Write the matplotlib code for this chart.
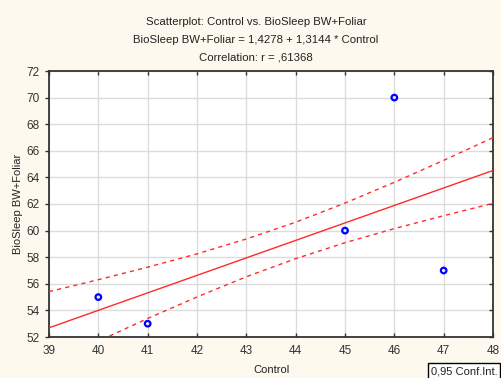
import numpy as np
import matplotlib.pyplot as plt
import matplotlib.lines as mlines

plt.rcParams['font.family'] = ['Liberation Sans', 'DejaVu Sans']

# observed data
control = [40, 41, 45, 46, 47]
biosleep = [55, 53, 60, 70, 57]

# 0.95 confidence band at integer x
band_x = [39, 40, 41, 42, 43, 44, 45, 46, 47, 48]
band_upper = [55.41, 56.31, 57.25, 58.25, 59.37, 60.63, 62.07, 63.63, 65.28, 66.99]
band_lower = [49.97, 51.69, 53.39, 55.01, 56.53, 57.89, 59.09, 60.15, 61.12, 62.05]

x_ticks = list(range(39, 49))
y_ticks = list(range(52, 73, 2))

title_lines = ["Scatterplot: Control vs. BioSleep BW+Foliar",
               "BioSleep BW+Foliar = 1,4278 + 1,3144 * Control",
               "Correlation: r = ,61368"]

bg = '#fdf9ef'
red = '#ff2a2a'

fig = plt.figure(figsize=(5.01, 3.78), dpi=100, facecolor=bg)
W, H = 501, 378
ax = fig.add_axes([49 / W, 1 - 337 / H, (493 - 49) / W, (337 - 71) / H])
ax.set_facecolor('white')

# regression line
slope, intercept = np.polyfit(control, biosleep, 1)
xs = np.array([39, 48])
ax.plot(xs, intercept + slope * xs, color=red, lw=1.0, zorder=3)
ax.plot(band_x, band_upper, color=red, lw=1.0, dashes=(3, 3), zorder=3)
ax.plot(band_x, band_lower, color=red, lw=1.0, dashes=(3, 3), zorder=3)

ax.scatter(control, biosleep, s=16, facecolors='none', edgecolors='#0000ff',
           linewidths=1.6, zorder=4, clip_on=False)

ax.set_xlim(39, 48)
ax.set_ylim(52, 72)
ax.set_xticks(x_ticks)
ax.set_yticks(y_ticks)
ax.grid(True, color='#dcdcdc', lw=1.0, zorder=0)
ax.set_axisbelow(True)

for sp in ax.spines.values():
    sp.set_color('#333333')
    sp.set_linewidth(1.3)

ax.tick_params(axis='y', which='both', direction='out', length=3, width=1,
               color='#333333', labelsize=8.5, labelcolor='#333333', right=True)
ax.tick_params(axis='x', which='both', direction='in', length=3, width=1,
               color='#333333', labelsize=8.5, labelcolor='#333333', top=True, pad=6)

# right-hand ticks point inward like the top/bottom ones
for tick in ax.yaxis.get_major_ticks():
    tick.tick2line.set_marker(mlines.TICKLEFT)

for i, line in enumerate(title_lines):
    fig.text(256 / W, 1 - (22 + 18 * i) / H, line, ha='center', va='center',
             fontsize=8.2, color='#222222')

fig.text(18 / W, 1 - 204 / H, "BioSleep BW+Foliar", rotation=90, ha='center',
         va='center', fontsize=8, color='#222222')
fig.text(271 / W, 1 - 370 / H, "Control", ha='center', va='center',
         fontsize=8, color='#222222')

fig.text(431 / W, 1 - 371 / H, "0,95 Conf.Int.", ha='left', va='center',
         fontsize=8, color='#222222',
         bbox=dict(boxstyle='square,pad=0.25', fc='white', ec='black', lw=1))

fig.savefig('out.png', dpi=100, facecolor=bg)
